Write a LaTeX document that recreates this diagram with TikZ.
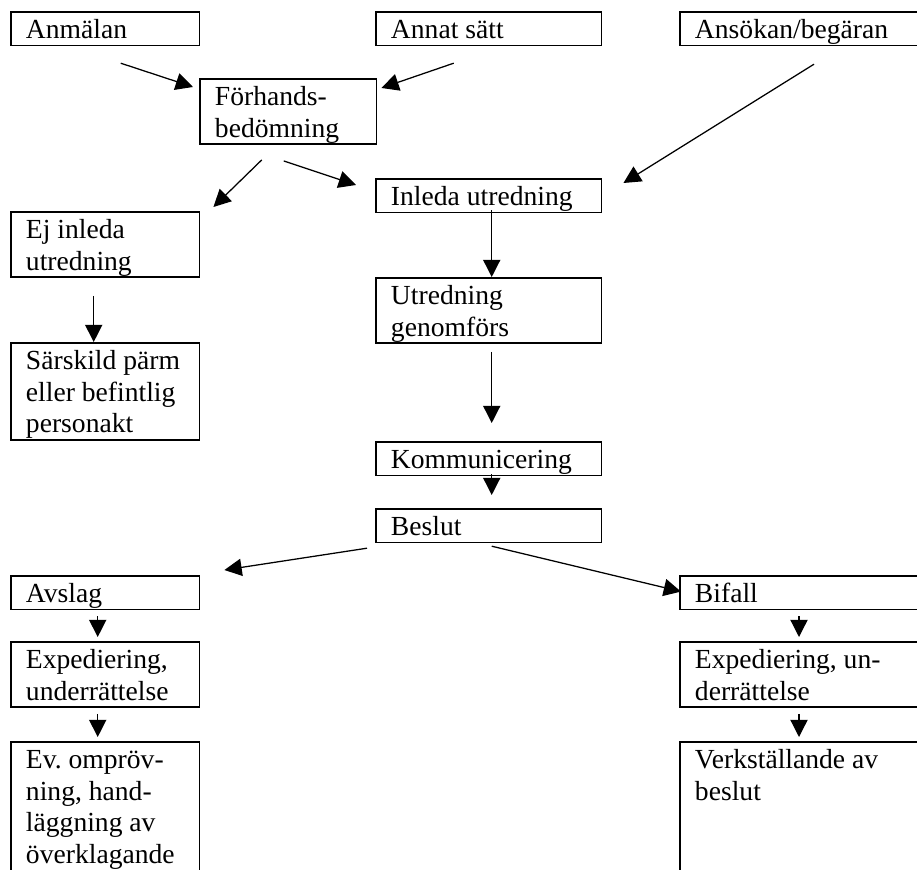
\documentclass[tikz,border=0pt]{standalone}
\usepackage{fontspec}
\setmainfont{Liberation Serif}
\usetikzlibrary{calc}
\usetikzlibrary{arrows.meta}

\newcommand\bxstrut{\rule[-2.6pt]{0pt}{13.8pt}}
\tikzset{
  box/.style={draw, line width=0.7pt, anchor=north west, align=flush left,
    inner xsep=6.6pt, inner ysep=0.4pt, font=\fontsize{12}{13.8}\selectfont\frenchspacing,
    execute at begin node=\bxstrut, execute at end node=\bxstrut},
  lbox/.style={box, text width=68.9pt},
  cbox/.style={box, text width=85.0pt},
  fbox/.style={box, text width=63.7pt},
  rbox/.style={box, text width=100pt},
  openbox/.style={text depth=60pt},
  arr/.style={-{Triangle[length=7.5pt, width=7.5pt]}, line width=0.55pt},
}

\begin{document}
\begin{tikzpicture}[x=0.4348pt, y=-0.4348pt]
  \useasboundingbox (0,0) rectangle (917,870);
  \clip (0,0) rectangle (917,870);

  % top row
  \node [lbox] (anm)   at (10,11)  {Anmälan};
  \node [cbox] (annat) at (375,11) {Annat sätt};
  \node [rbox] (ansok) at (679,11) {Ansökan/begäran};

  \node [fbox] (forh)   at (199,78)  {Förhands-\\bedömning};
  \node [cbox] (inleda) at (375,178) {Inleda utredning};
  \node [lbox] (ej)     at (10,211)  {Ej inleda\\utredning};
  \node [lbox] (sarsk)  at (10,342)  {Särskild pärm\\eller befintlig\\personakt};
  \node [cbox] (utr)    at (375,277) {Utredning\\genomförs};
  \node [cbox] (komm)   at (375,441) {Kommunicering};
  \node [cbox] (beslut) at (375,508) {Beslut};

  % two outcomes
  \node [lbox] (avslag) at (10,575)  {Avslag};
  \node [rbox] (bifall) at (679,575) {Bifall};
  \node [lbox] (expl)   at (10,641)  {Expediering,\\underrättelse};
  \node [rbox] (expr)   at (679,641) {Expediering, un-\\derrättelse};
  \node [lbox, openbox] (ev)   at (10,741)  {Ev. ompröv-\\ning, hand-\\läggning av\\överklagande};
  \node [rbox, openbox] (verk) at (679,741) {Verkställande av\\beslut};

  \draw [arr] ($(anm.south)+(15.5,17)$) -- ($(forh.north west)+(-6,9)$);
  \draw [arr] ($(annat.south)+(-35,17)$) -- ($(forh.north east)+(4,10)$);
  \draw [arr] ($(ansok.south west)+(135,18)$) -- ($(inleda.north east)+(21,5)$);
  \draw [arr] ($(forh.south)+(-26.5,15)$) -- ($(ej.north east)+(13,-4)$);
  \draw [arr] ($(forh.south)+(-4.5,16)$) -- ($(inleda.north west)+(-19,7)$);
  \draw [arr] ($(inleda.south)+(3,-3)$) -- ($(utr.north)+(3,0)$);
  \draw [arr] ($(ej.south)+(-11.5,18)$) -- ($(sarsk.north)+(-11.5,0)$);
  \draw [arr] ($(utr.south)+(3,8)$) -- ($(komm.north)+(3,-18)$);
  \draw [arr] ($(komm.south)+(3,-2)$) -- ($(beslut.north)+(3,-13)$);
  \draw [arr] ($(beslut.south west)+(-8,5)$) -- ($(avslag.north east)+(24,-5)$);
  \draw [arr] ($(beslut.south)+(3,3)$) -- ($(bifall.west)+(2,-1)$);

  \foreach \from/\to in {avslag/expl, expl/ev} {
    \draw [arr] ($(\from.south)+(-7.5,6)$) -- ($(\to.north)+(-7.5,-4)$);
  }
  \foreach \from/\to in {bifall/expr, expr/verk} {
    \draw [arr] ($(\from.south west)+(120,6)$) -- ($(\to.north west)+(120,-4)$);
  }
\end{tikzpicture}
\end{document}
